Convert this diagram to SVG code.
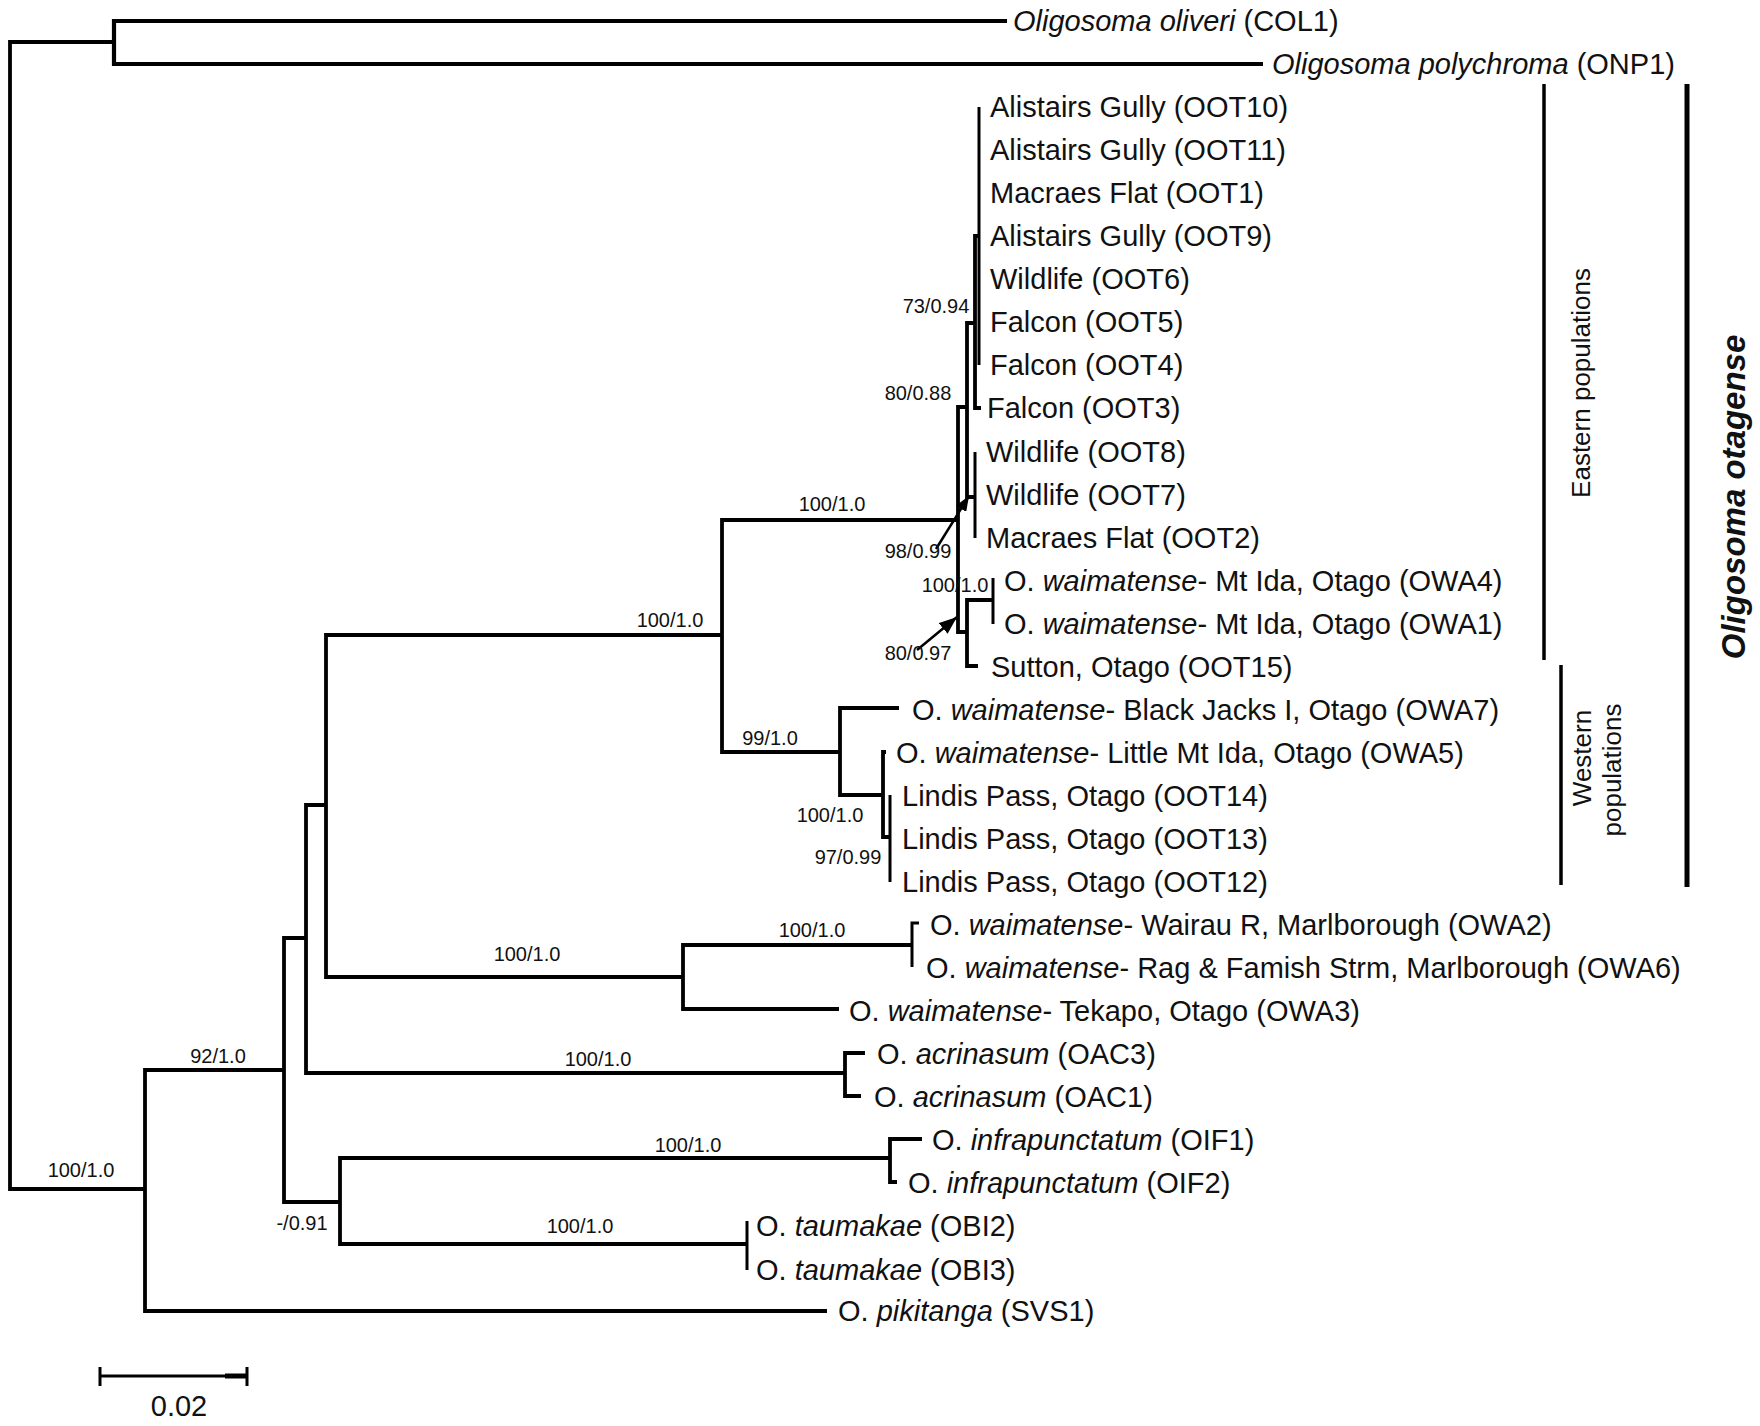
<svg xmlns="http://www.w3.org/2000/svg" width="1760" height="1426" viewBox="0 0 1760 1426">
<style>
.t{font-family:"Liberation Sans",Arial,sans-serif;font-size:29px;fill:#111}
.s{font-family:"Liberation Sans",Arial,sans-serif;font-size:20px;fill:#111;text-anchor:middle}
.i{font-style:italic}
.br{fill:none;stroke:#000;stroke-width:3.8;stroke-linejoin:miter}
.bar{stroke:#000;fill:none}
</style>
<defs>
<marker id="ah" markerUnits="userSpaceOnUse" markerWidth="20" markerHeight="14" refX="18" refY="7" orient="auto">
<path d="M0,0 L18,7 L0,14 z" fill="#000"/>
</marker>
<marker id="ahs" markerUnits="userSpaceOnUse" markerWidth="16" markerHeight="12" refX="15" refY="6" orient="auto">
<path d="M0,0 L15,6 L0,12 z" fill="#000"/>
</marker>
</defs>
<rect width="1760" height="1426" fill="#fff"/>

<g id="connectors">
<path class="br" d="M114 42 H10 V1189 H145"/>
<path class="br" d="M1007 21 H114 V64 H1263" style="stroke-width:4.2"/>
<path class="br" d="M284 1070 H145 V1311 H827"/>
<path class="br" d="M306 938 H284 V1202 H340"/>
<path class="br" d="M890 1158 H340 V1244 H747"/>
<path class="br" d="M922 1139 H890 V1182 H897"/>
<path class="br" d="M747 1221 V1270" style="stroke-width:3"/>
<path class="br" d="M326 805 H306 V1073 H845"/>
<path class="br" d="M865 1053 H845 V1096 H861"/>
<path class="br" d="M722 635 H326 V977 H683"/>
<path class="br" d="M912 945 H683 V1009 H839"/>
<path class="br" d="M919 923 H912 V967" style="stroke-width:3"/>
<path class="br" d="M958 520 H722 V752 H840"/>
<path class="br" d="M899 708 H840 V795 H883"/>
<path class="br" d="M886 752 H883 V837 H890"/>
<path class="br" d="M890 795 V882" style="stroke-width:3"/>
<path class="br" d="M967 407 H958 V632 H967"/>
<path class="br" d="M975 323 H967 V497 H975"/>
<path class="br" d="M979 236 H975 V408 H981"/>
<path class="br" d="M979 107 V365" style="stroke-width:3"/>
<path class="br" d="M975 452 V538" style="stroke-width:3"/>
<path class="br" d="M993 600 H967 V666 H978"/>
<path class="br" d="M993 578 V624" style="stroke-width:3"/>
<line x1="936" y1="549" x2="969" y2="496" stroke="#000" stroke-width="2.5" marker-end="url(#ahs)"/>
<line x1="917" y1="650" x2="957" y2="617" stroke="#000" stroke-width="2.5" marker-end="url(#ah)"/>
</g>

<g id="support">
<text class="s" x="81" y="1177">100/1.0</text>
<text class="s" x="218" y="1063">92/1.0</text>
<text class="s" x="302" y="1230">-/0.91</text>
<text class="s" x="580" y="1233">100/1.0</text>
<text class="s" x="688" y="1152">100/1.0</text>
<text class="s" x="598" y="1066">100/1.0</text>
<text class="s" x="527" y="961">100/1.0</text>
<text class="s" x="812" y="937">100/1.0</text>
<text class="s" x="670" y="627">100/1.0</text>
<text class="s" x="832" y="511">100/1.0</text>
<text class="s" x="770" y="745">99/1.0</text>
<text class="s" x="830" y="822">100/1.0</text>
<text class="s" x="848" y="864">97/0.99</text>
<text class="s" x="936" y="313">73/0.94</text>
<text class="s" x="918" y="400">80/0.88</text>
<text class="s" x="918" y="558">98/0.99</text>
<text class="s" x="955" y="592">100/1.0</text>
<text class="s" x="918" y="660">80/0.97</text>
</g>

<g id="taxa">
<g id="COL1"><text class="t" x="1013" y="31"><tspan class="i">Oligosoma oliveri</tspan> (COL1)</text></g>
<g id="ONP1"><text class="t" x="1272" y="74"><tspan class="i">Oligosoma polychroma</tspan> (ONP1)</text></g>
<g id="OOT10"><text class="t" x="990" y="117">Alistairs Gully (OOT10)</text></g>
<g id="OOT11"><text class="t" x="990" y="160">Alistairs Gully (OOT11)</text></g>
<g id="OOT1"><text class="t" x="990" y="203">Macraes Flat (OOT1)</text></g>
<g id="OOT9"><text class="t" x="990" y="246">Alistairs Gully (OOT9)</text></g>
<g id="OOT6"><text class="t" x="990" y="289">Wildlife (OOT6)</text></g>
<g id="OOT5"><text class="t" x="990" y="332">Falcon (OOT5)</text></g>
<g id="OOT4"><text class="t" x="990" y="375">Falcon (OOT4)</text></g>
<g id="OOT3"><text class="t" x="987" y="418">Falcon (OOT3)</text></g>
<g id="OOT8"><text class="t" x="986" y="462">Wildlife (OOT8)</text></g>
<g id="OOT7"><text class="t" x="986" y="505">Wildlife (OOT7)</text></g>
<g id="OOT2"><text class="t" x="986" y="548">Macraes Flat (OOT2)</text></g>
<g id="OWA4"><text class="t" x="1004" y="591">O. <tspan class="i">waimatense</tspan>- Mt Ida, Otago (OWA4)</text></g>
<g id="OWA1"><text class="t" x="1004" y="634">O. <tspan class="i">waimatense</tspan>- Mt Ida, Otago (OWA1)</text></g>
<g id="OOT15"><text class="t" x="991" y="677">Sutton, Otago (OOT15)</text></g>
<g id="OWA7"><text class="t" x="912" y="720">O. <tspan class="i">waimatense</tspan>- Black Jacks I, Otago (OWA7)</text></g>
<g id="OWA5"><text class="t" x="896" y="763">O. <tspan class="i">waimatense</tspan>- Little Mt Ida, Otago (OWA5)</text></g>
<g id="OOT14"><text class="t" x="902" y="806">Lindis Pass, Otago (OOT14)</text></g>
<g id="OOT13"><text class="t" x="902" y="849">Lindis Pass, Otago (OOT13)</text></g>
<g id="OOT12"><text class="t" x="902" y="892">Lindis Pass, Otago (OOT12)</text></g>
<g id="OWA2"><text class="t" x="930" y="935">O. <tspan class="i">waimatense</tspan>- Wairau R, Marlborough (OWA2)</text></g>
<g id="OWA6"><text class="t" x="926" y="978">O. <tspan class="i">waimatense</tspan>- Rag &amp; Famish Strm, Marlborough (OWA6)</text></g>
<g id="OWA3"><text class="t" x="849" y="1021">O. <tspan class="i">waimatense</tspan>- Tekapo, Otago (OWA3)</text></g>
<g id="OAC3"><text class="t" x="877" y="1064">O. <tspan class="i">acrinasum</tspan> (OAC3)</text></g>
<g id="OAC1"><text class="t" x="874" y="1107">O. <tspan class="i">acrinasum</tspan> (OAC1)</text></g>
<g id="OIF1"><text class="t" x="932" y="1150">O. <tspan class="i">infrapunctatum</tspan> (OIF1)</text></g>
<g id="OIF2"><text class="t" x="908" y="1193">O. <tspan class="i">infrapunctatum</tspan> (OIF2)</text></g>
<g id="OBI2"><text class="t" x="756" y="1236">O. <tspan class="i">taumakae</tspan> (OBI2)</text></g>
<g id="OBI3"><text class="t" x="756" y="1280">O. <tspan class="i">taumakae</tspan> (OBI3)</text></g>
<g id="SVS1"><text class="t" x="838" y="1321">O. <tspan class="i">pikitanga</tspan> (SVS1)</text></g>
</g>

<g id="groups">
<line class="bar" x1="1544" y1="84" x2="1544" y2="660" stroke-width="3.5"/>
<text class="t" transform="translate(1590 383) rotate(-90)" text-anchor="middle" style="font-size:26px">Eastern populations</text>
<line class="bar" x1="1561" y1="665" x2="1561" y2="885" stroke-width="3.5"/>
<text class="t" transform="translate(1591 758) rotate(-90)" text-anchor="middle" style="font-size:26px">Western</text>
<text class="t" transform="translate(1621 770) rotate(-90)" text-anchor="middle" style="font-size:26px">populations</text>
<line class="bar" x1="1687" y1="84" x2="1687" y2="887" stroke-width="5"/>
<text class="t i" transform="translate(1745 497) rotate(-90)" text-anchor="middle" style="font-size:33px;font-weight:bold">Oligosoma otagense</text>
</g>

<g id="scale">
<path class="br" d="M100 1367 V1386 M100 1376 H247 M247 1367 V1386" style="stroke-width:3"/>
<line x1="225" y1="1376" x2="247" y2="1376" stroke="#000" stroke-width="5"/>
<text class="t" x="179" y="1416" text-anchor="middle">0.02</text>
</g>
</svg>
